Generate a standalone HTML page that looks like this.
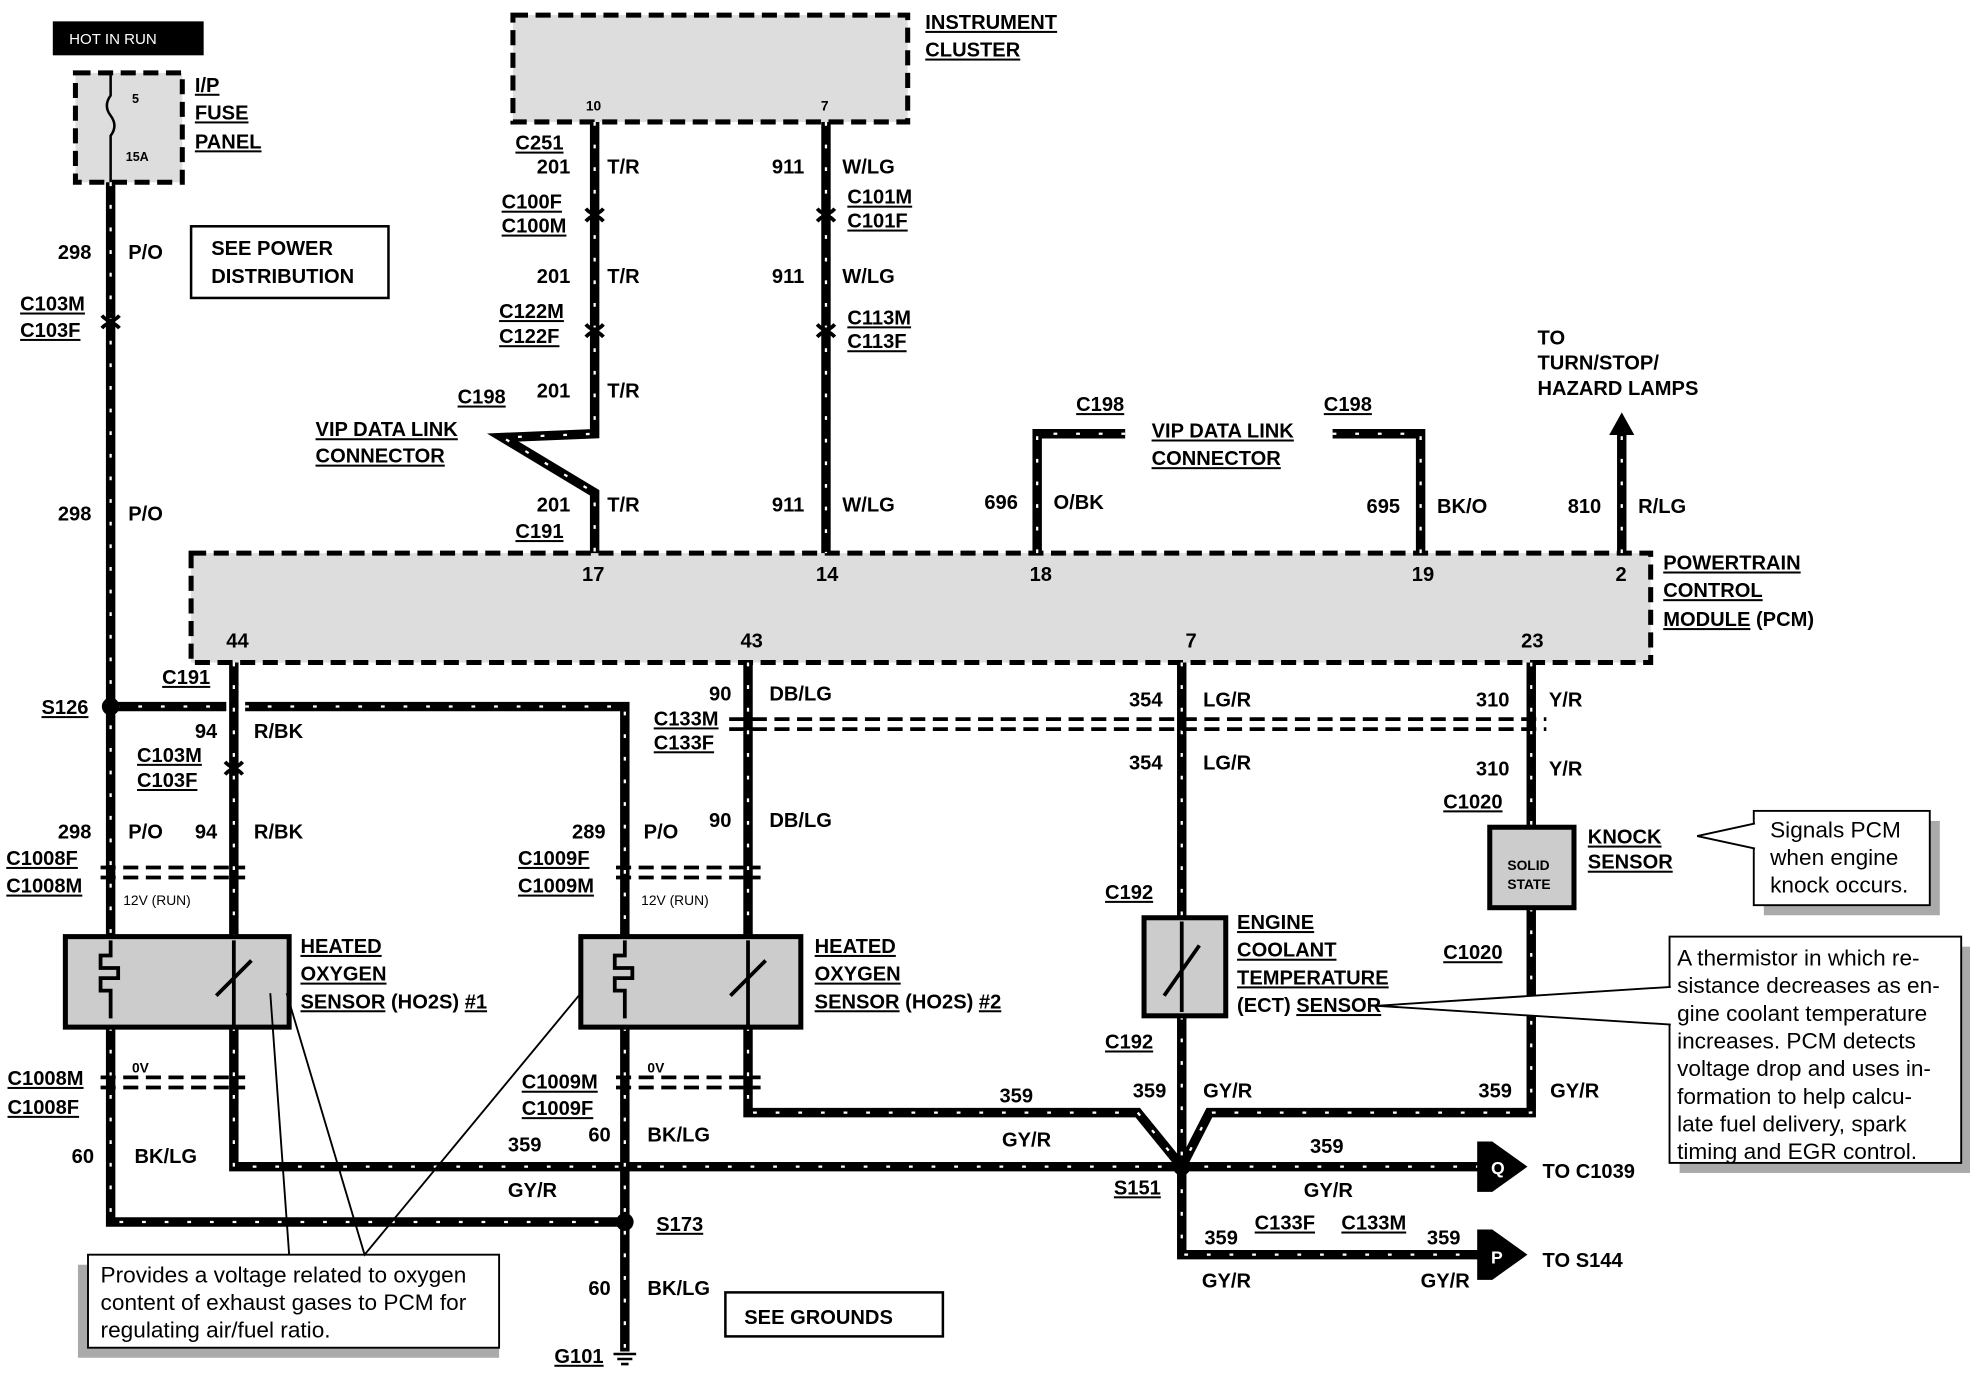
<!DOCTYPE html>
<html><head><meta charset="utf-8"><style>
html,body{margin:0;padding:0;background:#fff;}
svg{display:block;}
text{font-family:"Liberation Sans",Arial,sans-serif;font-weight:bold;font-size:16px;fill:#000;}
.u{text-decoration:underline;}
.w{fill:none;stroke:#000;stroke-width:7.5;}
.s{fill:none;stroke:#fff;stroke-width:1.8;stroke-dasharray:3 15;}
.db{fill:#ddd;stroke:#000;stroke-width:4;stroke-dasharray:12 6;}
.sb{fill:#ccc;stroke:#000;stroke-width:4;}
.cd{fill:none;stroke:#000;stroke-width:3;stroke-dasharray:12 6;}
.n{font-weight:normal;font-size:18px;}
.ch{fill:none;stroke:#000;stroke-width:3;}
</style></head><body>
<svg width="1970" height="1376" viewBox="0 0 1567 1094.5" preserveAspectRatio="none" xmlns="http://www.w3.org/2000/svg">
<rect x="42" y="17" width="120" height="27" fill="#000"/>
<text x="55" y="35" style="fill:#fff;font-weight:normal;font-size:12px">HOT IN RUN</text>
<rect x="60" y="58" width="85" height="87" class="db"/>
<text x="105" y="82" style="font-size:10px">5</text>
<text x="100" y="128" style="font-size:10px">15A</text>
<path d="M88 58 v18 q-6 8 0 16 q6 8 0 16 v37" fill="none" stroke="#000" stroke-width="2"/>
<text x="155" y="73" class="u">I/P</text><text x="155" y="95" class="u">FUSE</text><text x="155" y="118" class="u">PANEL</text>
<rect x="152" y="180" width="157" height="57" fill="#fff" stroke="#000" stroke-width="2"/>
<text x="168" y="203">SEE POWER</text><text x="168" y="225">DISTRIBUTION</text>
<rect x="408" y="12" width="314" height="85" class="db"/>
<text x="736" y="23" class="u">INSTRUMENT</text><text x="736" y="45" class="u">CLUSTER</text>
<text x="466" y="88" style="font-size:11px">10</text><text x="653" y="88" style="font-size:11px">7</text>
<rect x="152" y="440" width="1161" height="87" class="db"/>
<text x="1323" y="453" class="u">POWERTRAIN</text><text x="1323" y="475" class="u">CONTROL</text><text x="1323" y="498"><tspan class="u">MODULE</tspan> (PCM)</text>
<g style="font-size:11px"><text x="463" y="462">17</text><text x="649" y="462">14</text><text x="819" y="462">18</text><text x="1123" y="462">19</text><text x="1285" y="462">2</text>
<text x="180" y="515">44</text><text x="589" y="515">43</text><text x="943" y="515">7</text><text x="1210" y="515">23</text></g>

<g id="wires">
<path class="w" d="M88 145 V745"/>
<path class="w" d="M186 527 V745"/>
<path class="w" d="M92 562 H180 M195 562 H497 V745"/>
<path class="w" d="M595 527 V745"/>
<path class="w" d="M473 97 V345 L400 348 L473 392 V440"/>
<path class="w" d="M657 97 V440"/>
<path class="w" d="M825 440 V345 H895"/>
<path class="w" d="M1060 345 H1130 V440"/>
<path class="w" d="M1290 440 V345"/>
<path class="w" d="M940 527 V730 M940 808 V928"/>
<path class="w" d="M1218 527 V658 M1218 722 V885 H962 L940 928"/>
<path class="w" d="M88 817 V972 H497"/>
<path class="w" d="M186 817 V928 H940"/>
<path class="w" d="M497 817 V1075"/>
<path class="w" d="M595 817 V885 H905 L940 928"/>
<path class="w" d="M940 928 H1180"/>
<path class="w" d="M940 928 V998 H1180"/>
</g>
<!-- connector chevrons -->
<g class="ch">
<path d="M466 166 q7 8 14 0 M466 176 q7 -8 14 0 M650 166 q7 8 14 0 M650 176 q7 -8 14 0"/>
<path d="M466 258 q7 8 14 0 M466 268 q7 -8 14 0 M650 258 q7 8 14 0 M650 268 q7 -8 14 0"/>
<path d="M81 251 q7 8 14 0 M81 261 q7 -8 14 0 M179 606 q7 8 14 0 M179 616 q7 -8 14 0"/>
</g>
<path d="M1290 328 l-10 18 h20 z" fill="#000"/>
<circle cx="88" cy="562" r="7"/><circle cx="940" cy="928" r="7"/><circle cx="497" cy="972" r="7"/>
<path d="M1175 908 h12 l28 20 l-28 20 h-12 z M1175 978 h12 l28 20 l-28 20 h-12 z" fill="#000"/>
<text x="1186" y="934" style="fill:#fff;font-size:14px">Q</text><text x="1186" y="1005" style="fill:#fff;font-size:14px">P</text>
<path d="M488 1077 h18 M491 1081 h12 M494 1085 h6" stroke="#000" stroke-width="2"/>

<path class="cd" d="M80 690 H195 M80 698 H195 M490 690 H605 M490 698 H605 M80 857 H195 M80 865 H195 M490 857 H605 M490 865 H605 M580 572 H1230 M580 580 H1230"/>

<rect x="52" y="745" width="178" height="72" class="sb"/>
<rect x="462" y="745" width="175" height="72" class="sb"/>
<rect x="910" y="730" width="65" height="78" class="sb"/>
<rect x="1185" y="658" width="67" height="64" class="sb"/>
<path d="M88 748 v12 h-8 v10 h14 v8 h-14 v10 h8 v22 M497 748 v12 h-8 v10 h14 v8 h-14 v10 h8 v22" fill="none" stroke="#000" stroke-width="3"/>
<path d="M186 748 v70 M172 792 l28 -28 M595 748 v70 M581 792 l28 -28 M940 733 v72 M926 792 l28 -40" stroke="#000" stroke-width="3" fill="none"/>
<text x="1199" y="692" style="font-size:11px">SOLID</text><text x="1199" y="707" style="font-size:11px">STATE</text>

<g>
<text x="46" y="206">298</text><text x="102" y="206">P/O</text>
<text x="16" y="247" class="u">C103M</text><text x="16" y="268" class="u">C103F</text>
<text x="46" y="414">298</text><text x="102" y="414">P/O</text>
<text x="33" y="568" class="u">S126</text>
<text x="129" y="544" class="u">C191</text>
<text x="155" y="587">94</text><text x="202" y="587">R/BK</text>
<text x="109" y="606" class="u">C103M</text><text x="109" y="626" class="u">C103F</text>
<text x="46" y="667">298</text><text x="102" y="667">P/O</text><text x="155" y="667">94</text><text x="202" y="667">R/BK</text>
<text x="5" y="688" class="u">C1008F</text><text x="5" y="710" class="u">C1008M</text>
<text x="98" y="720" style="font-size:11px;font-weight:normal">12V (RUN)</text>
<text x="455" y="667">289</text><text x="512" y="667">P/O</text><text x="564" y="658">90</text><text x="612" y="658">DB/LG</text>
<text x="412" y="688" class="u">C1009F</text><text x="412" y="710" class="u">C1009M</text>
<text x="510" y="720" style="font-size:11px;font-weight:normal">12V (RUN)</text>
<text x="564" y="557">90</text><text x="612" y="557">DB/LG</text>
<text x="520" y="577" class="u">C133M</text><text x="520" y="596" class="u">C133F</text>
<text x="239" y="758" class="u">HEATED</text><text x="239" y="780" class="u">OXYGEN</text><text x="239" y="802"><tspan class="u">SENSOR</tspan> (HO2S) <tspan class="u">#1</tspan></text>
<text x="648" y="758" class="u">HEATED</text><text x="648" y="780" class="u">OXYGEN</text><text x="648" y="802"><tspan class="u">SENSOR</tspan> (HO2S) <tspan class="u">#2</tspan></text>
<text x="105" y="853" style="font-size:11px">0V</text><text x="515" y="853" style="font-size:11px">0V</text>
<text x="6" y="863" class="u">C1008M</text><text x="6" y="886" class="u">C1008F</text>
<text x="415" y="866" class="u">C1009M</text><text x="415" y="887" class="u">C1009F</text>
<text x="57" y="925">60</text><text x="107" y="925">BK/LG</text>
<text x="404" y="916">359</text><text x="404" y="952">GY/R</text>
<text x="468" y="908">60</text><text x="515" y="908">BK/LG</text>
<text x="795" y="877">359</text><text x="797" y="912">GY/R</text>
<text x="522" y="979" class="u">S173</text>
<text x="468" y="1030">60</text><text x="515" y="1030">BK/LG</text>
<text x="441" y="1084" class="u">G101</text>
<rect x="577" y="1028" width="173" height="35" fill="#fff" stroke="#000" stroke-width="2"/>
<text x="592" y="1053">SEE GROUNDS</text>
<text x="410" y="119" class="u">C251</text>
<text x="427" y="138">201</text><text x="483" y="138">T/R</text>
<text x="614" y="138">911</text><text x="670" y="138">W/LG</text>
<text x="399" y="166" class="u">C100F</text><text x="399" y="185" class="u">C100M</text>
<text x="674" y="162" class="u">C101M</text><text x="674" y="181" class="u">C101F</text>
<text x="427" y="225">201</text><text x="483" y="225">T/R</text>
<text x="614" y="225">911</text><text x="670" y="225">W/LG</text>
<text x="397" y="253" class="u">C122M</text><text x="397" y="273" class="u">C122F</text>
<text x="674" y="258" class="u">C113M</text><text x="674" y="277" class="u">C113F</text>
<text x="364" y="321" class="u">C198</text><text x="427" y="316">201</text><text x="483" y="316">T/R</text>
<text x="251" y="347" class="u">VIP DATA LINK</text><text x="251" y="368" class="u">CONNECTOR</text>
<text x="427" y="407">201</text><text x="483" y="407">T/R</text>
<text x="614" y="407">911</text><text x="670" y="407">W/LG</text>
<text x="410" y="428" class="u">C191</text>
<text x="856" y="327" class="u">C198</text>
<text x="916" y="348" class="u">VIP DATA LINK</text><text x="916" y="370" class="u">CONNECTOR</text>
<text x="1053" y="327" class="u">C198</text>
<text x="783" y="405">696</text><text x="838" y="405">O/BK</text>
<text x="1087" y="408">695</text><text x="1143" y="408">BK/O</text>
<text x="1247" y="408">810</text><text x="1303" y="408">R/LG</text>
<text x="1223" y="274">TO</text><text x="1223" y="294">TURN/STOP/</text><text x="1223" y="314">HAZARD LAMPS</text>
<text x="898" y="562">354</text><text x="957" y="562">LG/R</text>
<text x="898" y="612">354</text><text x="957" y="612">LG/R</text>
<text x="1174" y="562">310</text><text x="1232" y="562">Y/R</text>
<text x="1174" y="617">310</text><text x="1232" y="617">Y/R</text>
<text x="1148" y="643" class="u">C1020</text>
<text x="1263" y="671" class="u">KNOCK</text><text x="1263" y="691" class="u">SENSOR</text>
<text x="1148" y="763" class="u">C1020</text>
<text x="879" y="715" class="u">C192</text><text x="879" y="834" class="u">C192</text>
<text x="984" y="739" class="u">ENGINE</text><text x="984" y="761" class="u">COOLANT</text><text x="984" y="783" class="u">TEMPERATURE</text><text x="984" y="805">(ECT) <tspan class="u">SENSOR</tspan></text>
<text x="901" y="873">359</text><text x="957" y="873">GY/R</text>
<text x="1176" y="873">359</text><text x="1233" y="873">GY/R</text>
<text x="1042" y="917">359</text><text x="1037" y="952">GY/R</text>
<text x="886" y="950" class="u">S151</text>
<text x="1227" y="937">TO C1039</text><text x="1227" y="1008">TO S144</text>
<text x="958" y="990">359</text><text x="956" y="1024">GY/R</text>
<text x="998" y="978" class="u">C133F</text><text x="1067" y="978" class="u">C133M</text>
<text x="1135" y="990">359</text><text x="1130" y="1024">GY/R</text>
</g>

<rect x="62" y="1006" width="335" height="74" fill="#aaa"/>
<rect x="70" y="998" width="327" height="74" fill="#fff" stroke="#000" stroke-width="1.5"/>
<path d="M215 790 L230 998 M228 790 L290 998 L462 790" fill="none" stroke="#000" stroke-width="1.5"/>
<text x="80" y="1020" class="n">Provides a voltage related to oxygen</text>
<text x="80" y="1042" class="n">content of exhaust gases to PCM for</text>
<text x="80" y="1064" class="n">regulating air/fuel ratio.</text>
<rect x="1403" y="653" width="140" height="75" fill="#aaa"/>
<rect x="1395" y="645" width="140" height="75" fill="#fff" stroke="#000" stroke-width="1.5"/>
<path d="M1396 655 L1350 665 L1396 675" fill="#fff" stroke="#000" stroke-width="1.5"/>
<text x="1408" y="666" class="n">Signals PCM</text><text x="1408" y="688" class="n">when engine</text><text x="1408" y="710" class="n">knock occurs.</text>
<rect x="1336" y="753" width="232" height="180" fill="#aaa"/>
<rect x="1328" y="745" width="232" height="180" fill="#fff" stroke="#000" stroke-width="1.5"/>
<path d="M1329 785 L1095 800 L1329 815" fill="#fff" stroke="#000" stroke-width="1.5"/>
<text x="1334" y="768" class="n">A thermistor in which re-</text><text x="1334" y="790" class="n">sistance decreases as en-</text><text x="1334" y="812" class="n">gine coolant temperature</text><text x="1334" y="834" class="n">increases. PCM detects</text><text x="1334" y="856" class="n">voltage drop and uses in-</text><text x="1334" y="878" class="n">formation to help calcu-</text><text x="1334" y="900" class="n">late fuel delivery, spark</text><text x="1334" y="922" class="n">timing and EGR control.</text>
</svg>
<script>
var g=document.getElementById('wires');
Array.prototype.slice.call(g.querySelectorAll('path')).forEach(function(p){var c=p.cloneNode();c.setAttribute('class','s');g.appendChild(c);});
</script>
</body></html>
